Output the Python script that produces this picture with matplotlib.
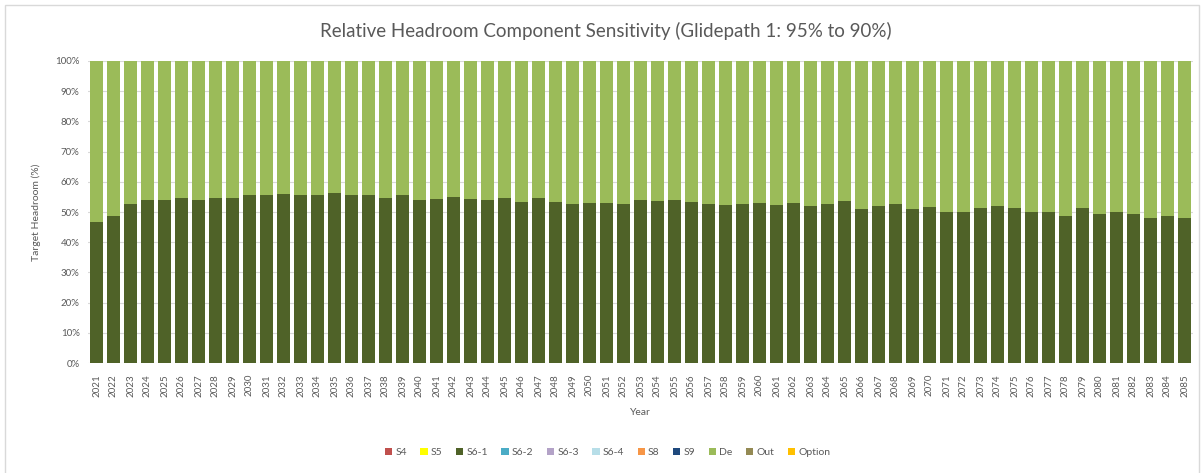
import matplotlib.pyplot as plt
from matplotlib.patches import Rectangle, Patch

plt.rcParams['font.family'] = ['Lato', 'DejaVu Sans']

years = list(range(2021, 2086))

# share of target headroom held by S6-1 (%)
s6_1 = [
    46.7, 48.6, 52.7, 53.9, 53.9, 54.7, 54.0, 54.7, 54.7, 55.6,
    55.6, 55.9, 55.5, 55.5, 56.2, 55.5, 55.5, 54.7, 55.5, 54.0,
    54.3, 55.0, 54.4, 54.0, 54.6, 53.4, 54.7, 53.4, 52.6, 52.9,
    53.1, 52.7, 54.0, 53.6, 54.0, 53.4, 52.6, 52.3, 52.8, 53.1,
    52.3, 53.1, 51.9, 52.6, 53.7, 51.0, 51.9, 52.6, 51.0, 51.5,
    50.1, 50.1, 51.4, 51.9, 51.4, 49.9, 49.9, 48.7, 51.4, 49.3,
    50.1, 49.5, 48.1, 48.7, 48.1,
]
# 100% stacked: De makes up the remainder
de = [100 - v for v in s6_1]

series_names = ["S4", "S5", "S6-1", "S6-2", "S6-3", "S6-4", "S8", "S9", "De", "Out", "Option"]
series_colors = ["#C0504D", "#FFFF00", "#4F6228", "#4BACC6", "#B3A2C7", "#B7DEE8",
                 "#F79646", "#1F497D", "#9BBB59", "#948A54", "#FFC000"]

fig = plt.figure(figsize=(12.03, 4.73), dpi=100)
ax = fig.add_axes([88 / 1203, 1 - 363 / 473, 1105 / 1203, 302 / 473])

x = list(range(len(years)))
ax.bar(x, s6_1, width=0.78, color="#4F6228", zorder=2)
ax.bar(x, de, bottom=s6_1, width=0.78, color="#9BBB59", zorder=2)

ax.set_xlim(-0.5, len(years) - 0.5)
ax.set_ylim(0, 100)
ax.set_yticks(range(0, 101, 10))
ax.set_yticklabels([f"{t}%" for t in range(0, 101, 10)], fontsize=7, color="#595959")
ax.set_xticks(x)
ax.set_xticklabels([str(y) for y in years], rotation=90, fontsize=7, color="#595959")
ax.tick_params(axis="y", length=0, pad=6)
ax.tick_params(axis="x", length=0, pad=8)
ax.grid(axis="y", color="#D9D9D9", linewidth=0.8, zorder=0)
for s in ax.spines.values():
    s.set_visible(False)

ax.set_ylabel("Target Headroom (%)", fontsize=7.5, color="#595959", labelpad=10)
ax.set_xlabel("Year", fontsize=7.5, color="#595959", labelpad=8)

fig.text(0.504, 0.934, "Relative Headroom Component Sensitivity (Glidepath 1: 95% to 90%)",
         ha="center", va="center", fontsize=13.5, color="#595959")

handles = [Patch(facecolor=c, edgecolor="none") for c in series_colors]
fig.legend(handles, series_names, loc="center", bbox_to_anchor=(0.505, 0.043), ncol=11,
           frameon=False, fontsize=7.5, handlelength=0.7, handleheight=0.7,
           handletextpad=0.3, columnspacing=1.3, labelcolor="#595959")

fig.patches.append(Rectangle((5 / 1203, -0.02), 1194 / 1203, 1 - 5 / 473 + 0.02,
                             transform=fig.transFigure, fill=False,
                             edgecolor="#D9D9D9", linewidth=1))

fig.savefig("out.png", dpi=100)
